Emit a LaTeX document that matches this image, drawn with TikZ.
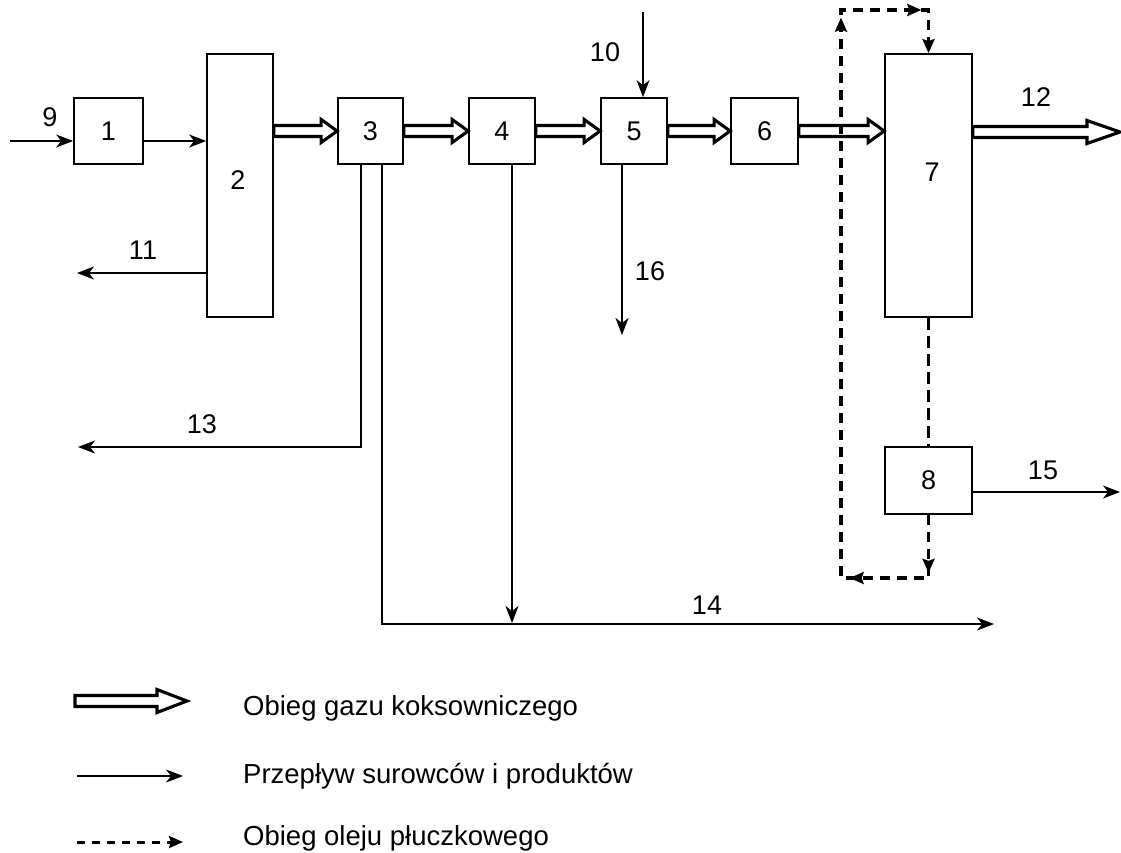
\documentclass[tikz,border=0pt]{standalone}
\usepackage{fontspec}
\setmainfont{Liberation Sans}
\usetikzlibrary{arrows.meta,calc,decorations.markings}
\newcommand\gasarrow[3][16]{%
  \path[gas] let \p1=#2, \p2=#3 in
    (\x1,\y1+5.5pt) -- (\x2-#1pt,\y1+5.5pt) -- (\x2-#1pt,\y1+11.5pt) -- (\x2,\y1)
    -- (\x2-#1pt,\y1-11.5pt) -- (\x2-#1pt,\y1-5.5pt) -- (\x1,\y1-5.5pt) -- cycle;}
\begin{document}
\begin{tikzpicture}[x=1pt,y=-1pt,
  box/.style={draw, line width=1.7pt, inner sep=0pt, font=\fontsize{27}{30}\selectfont},
  num/.style={inner sep=0pt, font=\fontsize{27}{30}\selectfont},
  legtext/.style={inner sep=0pt, anchor=base west, font=\fontsize{27.5}{32}\selectfont},
  flowtip/.tip={Stealth[length=17pt,width=13pt,inset=5pt]},
  oiltip/.tip={Stealth[length=14pt,width=12pt,inset=2pt]},
  flow/.style={line width=1.5pt, -flowtip},
  flowthick/.style={line width=2.3pt, -flowtip},
  oil/.style={line width=3.5pt, dash pattern=on 10pt off 7pt},
  oilthin/.style={line width=2.2pt, dash pattern=on 12pt off 6pt},
  gas/.style={draw, line width=3.1pt, fill=white, line join=miter},
]
\useasboundingbox[fill=white] (0,0) rectangle (1121,852);

% boxes
\node[box, minimum width=69pt, minimum height=66pt] (n1) at (108.5,131) {1};
\node[box, minimum width=66pt, minimum height=263pt] (n2) at (240,185.5) {};
\node[num] (t2) at (238,180) {2};
\node[box, minimum width=65pt, minimum height=66pt] (n3) at (370.5,131) {3};
\node[box, minimum width=66pt, minimum height=66pt] (n4) at (502,131) {4};
\node[box, minimum width=66pt, minimum height=66pt] (n5) at (634,131) {5};
\node[box, minimum width=67pt, minimum height=66pt] (n6) at (764.5,131) {6};
\node[box, minimum width=87pt, minimum height=263pt] (n7) at (928.5,185.5) {};
\node[num] (t7) at (932,172) {7};
\node[box, minimum width=87pt, minimum height=67pt] (n8) at (928.5,480.5) {8};

% gas arrows
\coordinate (e12) at (1120,132);
\gasarrow{(n2.east |- n3.west)}{(n3.west)}
\gasarrow{(n3.east)}{(n4.west)}
\gasarrow{(n4.east)}{(n5.west)}
\gasarrow{(n5.east)}{(n6.west)}
\gasarrow{(n6.east)}{(n7.west |- n6.east)}
\gasarrow[33]{(n7.east |- e12)}{(e12)}

% flows
\coordinate (e9) at (10,141);
\draw[flow] (e9) -- (e9 -| n1.west);
\draw[flow] (n1.east |- e9) -- (n2.west |- e9);
\coordinate (e11) at (77,273);
\draw[flow] (n2.west |- e11) -- (e11);
\coordinate (e10) at (643,12);
\draw[flow] (e10) -- (e10 |- n5.north);
\coordinate (e16) at (622,335);
\draw[flowthick] (e16 |- n5.south) -- (e16);
\coordinate (c13) at (361,447);
\coordinate (e13) at (78,447);
\draw[flowthick] (c13 |- n3.south) -- (c13) -- (e13);
\coordinate (c14) at (382,624);
\coordinate (e14) at (994,624);
\draw[line width=2pt, -flowtip] (c14 |- n3.south) -- (c14) -- (e14);
\coordinate (e4) at (512,623);
\draw[flowthick] (e4 |- n4.south) -- (e4);
\coordinate (e15) at (1120,492);
\draw[flow] (n8.east |- e15) -- (e15);

% oil loop
\draw[oilthin] (n7.south) -- (n8.north);
\coordinate (o1) at (928.5,578);
\coordinate (o2) at (841,578);
\coordinate (o3) at (841,10);
\coordinate (o4) at (928.5,10);
\draw[oil, -oiltip, postaction={decorate},
  decoration={markings,
    mark=at position 58pt with {\arrow{oiltip}},
    mark=at position 142pt with {\arrow{oiltip}},
    mark=at position 711pt with {\arrow{oiltip}},
    mark=at position 799pt with {\arrow{oiltip}}}]
  (n8.south) -- (o1) -- (o2) -- (o3) -- (o4) -- (n7.north);

% labels
\node[num] (l9) at (50,117) {9};
\node[num] (l10) at (605,52) {10};
\node[num] (l11) at (143,250) {11};
\node[num] (l12) at (1036,97) {12};
\node[num] (l13) at (202,424) {13};
\node[num] (l14) at (707,605) {14};
\node[num] (l15) at (1043,470) {15};
\node[num] (l16) at (650,271) {16};

% legend
\coordinate (g1s) at (75,701);
\coordinate (g1e) at (187,701);
\gasarrow[30]{(g1s)}{(g1e)}
\coordinate (g2s) at (77,776);
\coordinate (g2e) at (183,776);
\draw[flow] (g2s) -- (g2e);
\coordinate (g3s) at (77,842);
\coordinate (g3e) at (183,842);
\draw[oil, line width=3pt, dash pattern=on 8pt off 7pt, -oiltip] (g3s) -- (g3e);
\node[legtext] (tx1) at (243,715) {Obieg gazu koksowniczego};
\node[legtext] (tx2) at (243,783) {Przepływ surowców i produktów};
\node[legtext] (tx3) at (243,845) {Obieg oleju płuczkowego};
\end{tikzpicture}
\end{document}
